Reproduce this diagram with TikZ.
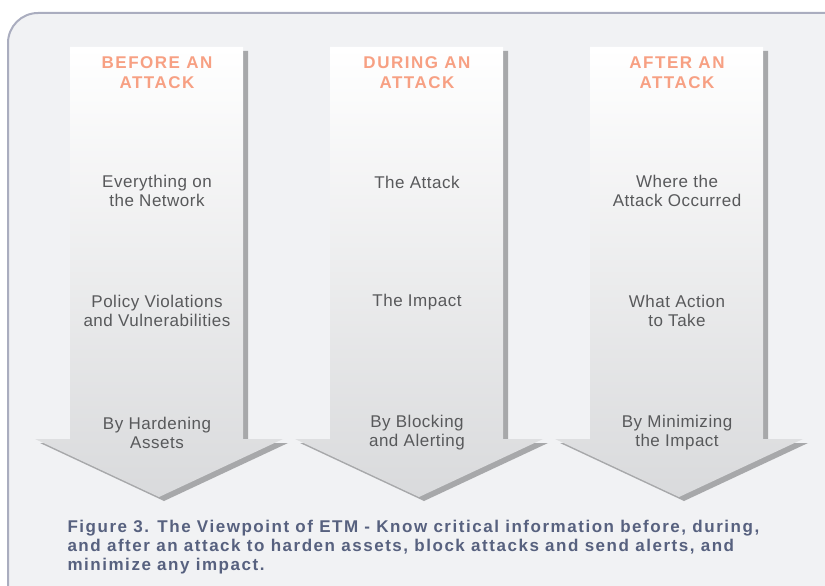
\documentclass[tikz,border=0pt]{standalone}
\usepackage{fontspec}
\setmainfont{Liberation Sans}
\newfontfamily\headfont[LetterSpace=9]{Liberation Sans}
\newfontfamily\bodyfont[LetterSpace=3]{Liberation Sans}
\newfontfamily\capfont[LetterSpace=9]{Liberation Sans}
\definecolor{etmpanel}{HTML}{F1F2F4}
\definecolor{etmborder}{HTML}{AAADBF}
\definecolor{etmgray}{HTML}{D9DADC}
\definecolor{etmshadow}{HTML}{A7A8AA}
\definecolor{etmsalmon}{HTML}{F7A083}
\definecolor{etmtext}{HTML}{58595B}
\definecolor{etmcaption}{HTML}{57617F}

\begin{document}
\begin{tikzpicture}[
   x=1pt, y=-1pt,
   every node/.append style={align=center},  % <-- support line break
   head/.style={font=\headfont\bfseries\fontsize{17}{20}\selectfont, text=etmsalmon},
   item/.style={font=\bodyfont\fontsize{17}{19}\selectfont, text=etmtext}
]
\tikzset{
   etmarrow/.pic={
      \fill[etmshadow, shift={(5,4)}]
         (0,0) -- (173,0) -- (173,392) -- (213,392) -- (89,450) -- (-35,392) -- (0,392) -- cycle;
      \shade[top color=white, bottom color=etmgray]
         (0,0) -- (173,0) -- (173,392) -- (213,392) -- (89,450) -- (-35,392) -- (0,392) -- cycle;
   }
}
\useasboundingbox (0,0) rectangle (825,586);
\clip (0,0) rectangle (825,586);
\draw[etmborder, fill=etmpanel, line width=2pt, rounded corners=30pt] (8,13) rectangle (860,620);

\pic at (70,47) {etmarrow};
\pic at (330,47) {etmarrow};
\pic at (590,47) {etmarrow};

\node[head] (before) at (157,73) {BEFORE AN\\ATTACK};
\node[head] (during) at (417,73) {DURING AN\\ATTACK};
\node[head] (after)  at (677,73) {AFTER AN\\ATTACK};

\node[item] (before1) at (157,191) {Everything on\\the Network};
\node[item] (before2) at (157,311) {Policy Violations\\and Vulnerabilities};
\node[item] (before3) at (157,433) {By Hardening\\Assets};

\node[item] (during1) at (417,182) {The Attack};
\node[item] (during2) at (417,302) {The Impact};
\node[item] (during3) at (417,433) {By Blocking\\and Alerting};

\node[item] (after1) at (677,191) {Where the\\Attack Occurred};
\node[item] (after2) at (677,311) {What Action\\to Take};
\node[item] (after3) at (677,433) {By Minimizing\\the Impact};

\node[anchor=north west, align=left, text=etmcaption,
      font=\capfont\bfseries\fontsize{17}{19}\selectfont] (caption) at (64,517)
   {Figure 3. The Viewpoint of ETM - Know critical information before, during,\\
    and after an attack to harden assets, block attacks and send alerts, and\\
    minimize any impact.};
\end{tikzpicture}
\end{document}
